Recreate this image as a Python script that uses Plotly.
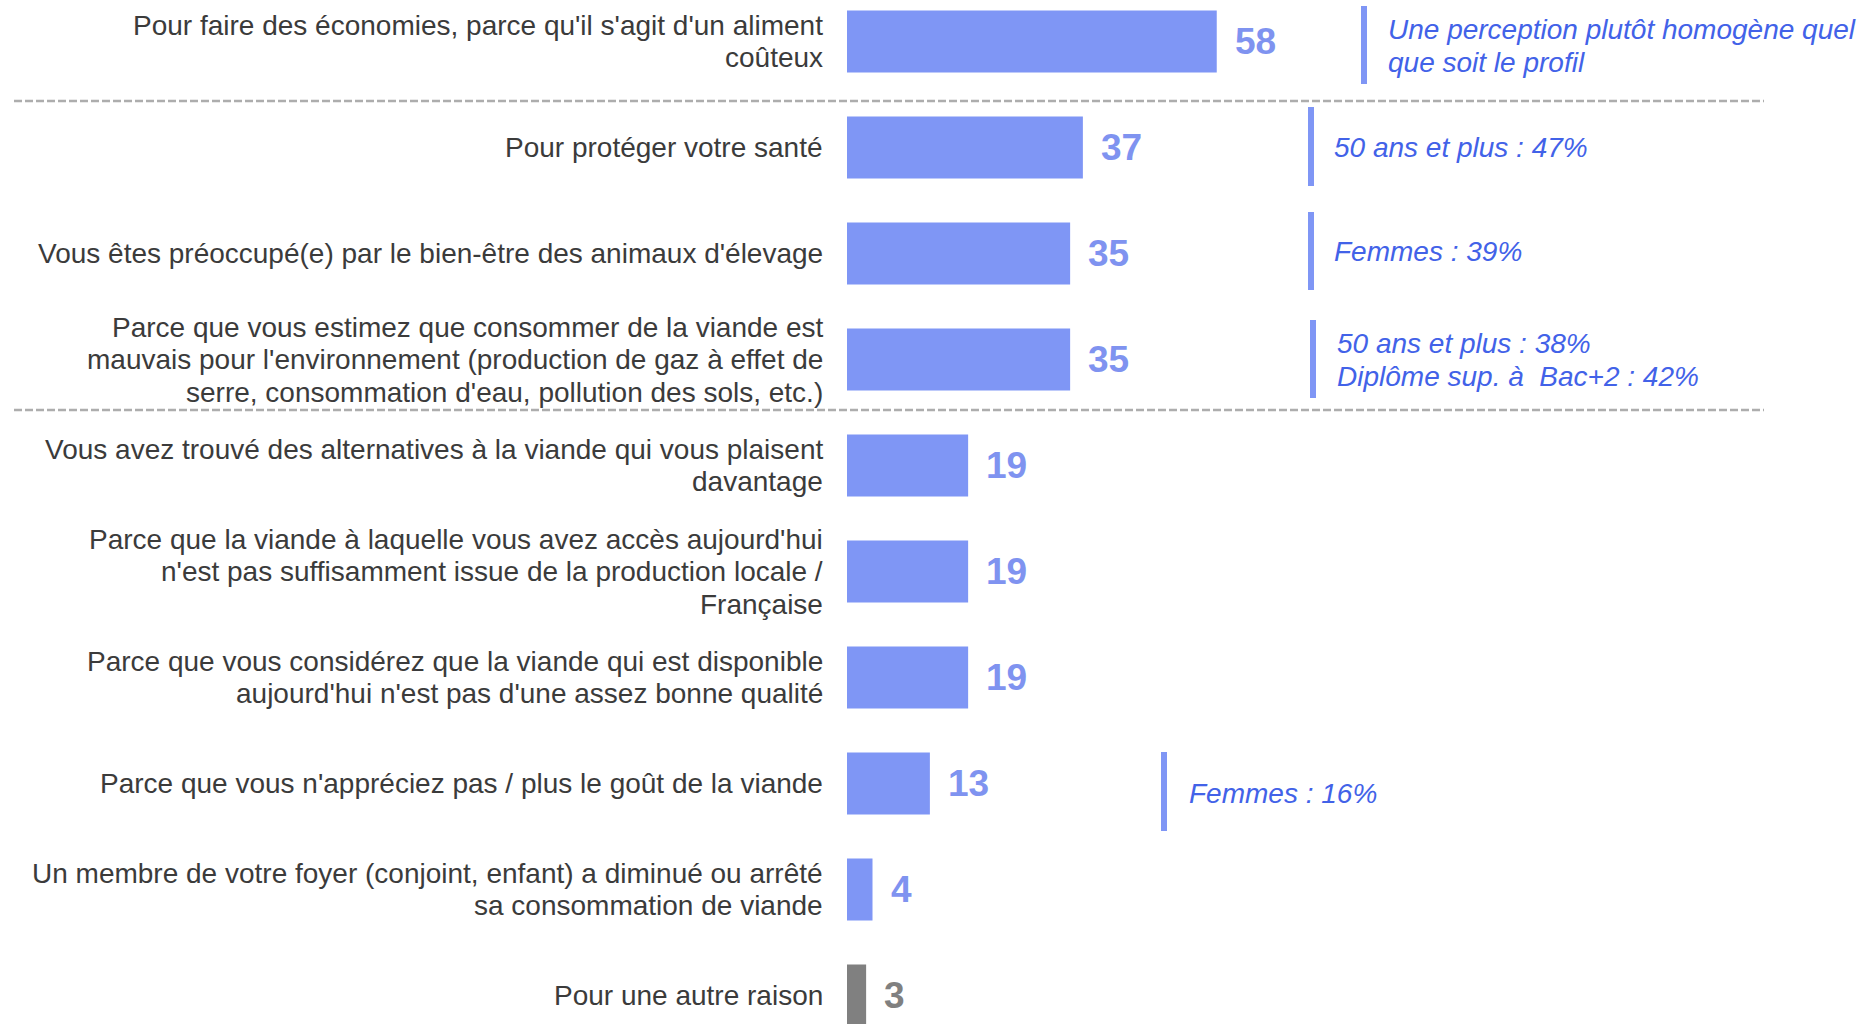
import plotly.graph_objects as go

# ---- data ----
categories = [
    "Pour faire des économies, parce qu'il s'agit d'un aliment<br>coûteux",
    "Pour protéger votre santé",
    "Vous êtes préoccupé(e) par le bien-être des animaux d'élevage",
    "Parce que vous estimez que consommer de la viande est<br>mauvais pour l'environnement (production de gaz à effet de<br>serre, consommation d'eau, pollution des sols, etc.)",
    "Vous avez trouvé des alternatives à la viande qui vous plaisent<br>davantage",
    "Parce que la viande à laquelle vous avez accès aujourd'hui<br>n'est pas suffisamment issue de la production locale /<br>Française",
    "Parce que vous considérez que la viande qui est disponible<br>aujourd'hui n'est pas d'une assez bonne qualité",
    "Parce que vous n'appréciez pas / plus le goût de la viande",
    "Un membre de votre foyer (conjoint, enfant) a diminué ou arrêté<br>sa consommation de viande",
    "Pour une autre raison",
]
values = [58, 37, 35, 35, 19, 19, 19, 13, 4, 3]
highlight_rows = [0, 1, 2, 3, 7]
highlight_texts = [
    "Une perception plutôt homogène quel<br>que soit le profil",
    "50 ans et plus : 47%",
    "Femmes : 39%",
    "50 ans et plus : 38%<br>Diplôme sup. à  Bac+2 : 42%",
    "Femmes : 16%",
]
separator_positions = [0.56, 3.475]

# ---- styles ----
W, H = 1865, 1024
BAR = "#7F96F5"
GRAY = "#808080"
VAL_BLUE = "#7F93F0"
NOTE_BLUE = "#4262E8"
LABEL = "#3b3b3b"
FONT = "Liberation Sans, Arial, sans-serif"
ROW_PX = 106.0
LINE_PX = 32.5

colors = [BAR] * (len(values) - 1) + [GRAY]
val_colors = [VAL_BLUE] * (len(values) - 1) + [GRAY]
ys = list(range(len(values)))

fig = go.Figure()
fig.add_trace(go.Bar(
    x=values, y=ys, orientation="h", width=0.585,
    marker=dict(color=colors, line=dict(width=0)),
    hoverinfo="skip",
))

annotations = []
# category labels (right aligned, one annotation per line)
for i, lab in enumerate(categories):
    lines = lab.split("<br>")
    n = len(lines)
    for k, ln in enumerate(lines):
        annotations.append(dict(
            x=825 / W, xref="paper", xanchor="right",
            y=i + (k - (n - 1) / 2) * LINE_PX / ROW_PX, yref="y", yanchor="middle",
            text=ln, showarrow=False,
            font=dict(family=FONT, size=28, color=LABEL),
        ))
# value labels
for i, v in enumerate(values):
    annotations.append(dict(
        x=v, xref="x", xanchor="left", xshift=16,
        y=i, yref="y", yanchor="middle",
        text=f"<b>{v}</b>", showarrow=False,
        font=dict(family=FONT, size=37, color=val_colors[i]),
    ))

shapes = []
# dashed separators
for sp in separator_positions:
    shapes.append(dict(
        type="line", xref="paper", yref="y",
        x0=14 / W, x1=1764 / W, y0=sp, y1=sp,
        line=dict(color="#ADADAD", width=2.5, dash="8px,3px"),
    ))

# highlight notes with vertical bars
note_bar_x = [1364, 1311, 1311, 1313, 1164]
note_bar_y = [(6, 84), (107, 186), (212, 290), (320, 398), (752, 831)]
note_text_x = [1386, 1332, 1332, 1335, 1187]
note_text_yc = [46, 147, 251, 360, 793]
for j, r in enumerate(highlight_rows):
    y0, y1 = note_bar_y[j]
    shapes.append(dict(
        type="line", xref="paper", yref="paper",
        x0=note_bar_x[j] / W, x1=note_bar_x[j] / W,
        y0=1 - y0 / H, y1=1 - y1 / H,
        line=dict(color=BAR, width=6),
    ))
    lines = highlight_texts[j].split("<br>")
    n = len(lines)
    for k, ln in enumerate(lines):
        yc = note_text_yc[j] + (k - (n - 1) / 2) * 33
        annotations.append(dict(
            x=note_text_x[j] / W, xref="paper", xanchor="left",
            y=1 - yc / H, yref="paper", yanchor="middle",
            text=f"<i>{ln}</i>", showarrow=False,
            font=dict(family=FONT, size=28, color=NOTE_BLUE),
        ))

zero_px = 847.0
px_per_unit = 6.375
x0v = -zero_px / px_per_unit
x1v = (W - zero_px) / px_per_unit
top_idx = -41.6 / ROW_PX
bot_idx = (len(values) - 1) + (H - 995.5) / ROW_PX

fig.update_layout(
    width=W, height=H,
    margin=dict(l=0, r=0, t=0, b=0),
    paper_bgcolor="white", plot_bgcolor="white",
    showlegend=False,
    xaxis=dict(range=[x0v, x1v], visible=False, fixedrange=True),
    yaxis=dict(range=[bot_idx, top_idx], visible=False, fixedrange=True),
    annotations=annotations,
    shapes=shapes,
    font=dict(family=FONT),
)

fig.write_html("out.html", config={"displayModeBar": False},
               post_script="document.body.style.margin='0';document.body.style.overflow='hidden';")
